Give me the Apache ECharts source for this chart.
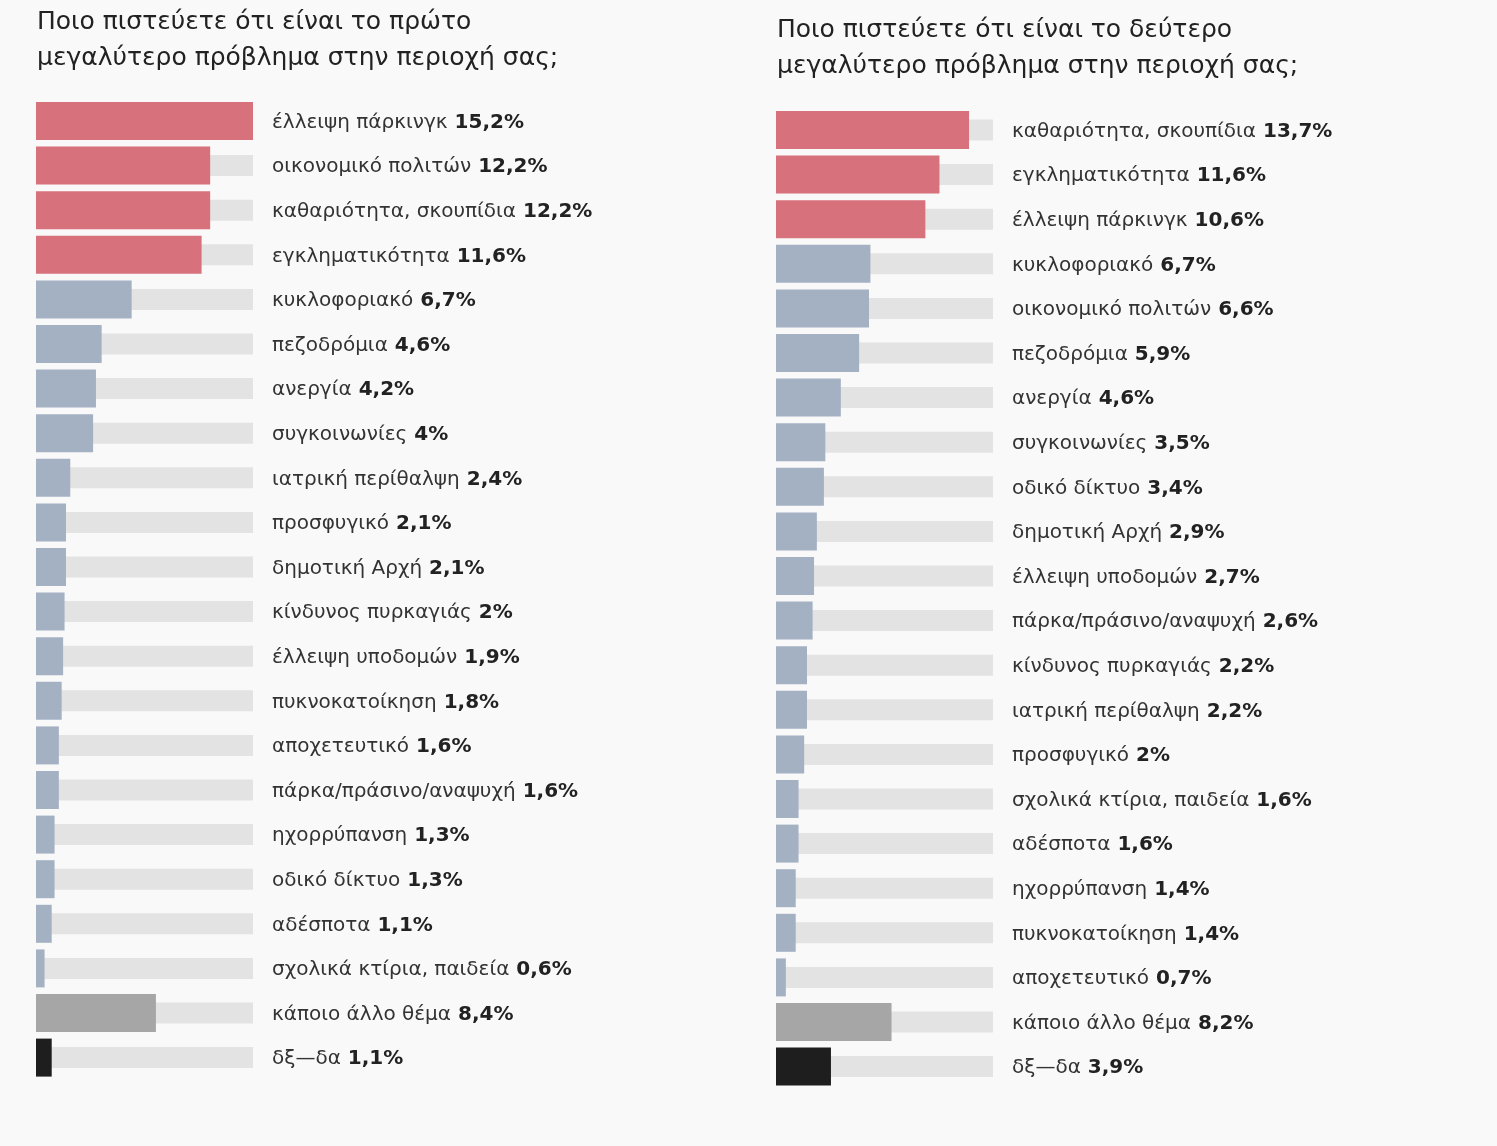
<!DOCTYPE html>
<html>
<head>
<meta charset="utf-8">
<script src="https://cdn.jsdelivr.net/npm/echarts@6/dist/echarts.min.js"></script>
<style>
html,body{margin:0;padding:0;background:#f9f9f9;}
#chart{width:1497px;height:1146px;}
</style>
</head>
<body>
<div id="chart"></div>
<script>
// ---- data ----
var leftTitle = 'Ποιο πιστεύετε ότι είναι το πρώτο\nμεγαλύτερο πρόβλημα στην περιοχή σας;';
var rightTitle = 'Ποιο πιστεύετε ότι είναι το δεύτερο\nμεγαλύτερο πρόβλημα στην περιοχή σας;';

var leftCategories = ['έλλειψη πάρκινγκ','οικονομικό πολιτών','καθαριότητα, σκουπίδια','εγκληματικότητα','κυκλοφοριακό','πεζοδρόμια','ανεργία','συγκοινωνίες','ιατρική περίθαλψη','προσφυγικό','δημοτική Αρχή','κίνδυνος πυρκαγιάς','έλλειψη υποδομών','πυκνοκατοίκηση','αποχετευτικό','πάρκα/πράσινο/αναψυχή','ηχορρύπανση','οδικό δίκτυο','αδέσποτα','σχολικά κτίρια, παιδεία','κάποιο άλλο θέμα','δξ—δα'];
var leftValues = [15.2,12.2,12.2,11.6,6.7,4.6,4.2,4,2.4,2.1,2.1,2,1.9,1.8,1.6,1.6,1.3,1.3,1.1,0.6,8.4,1.1];

var rightCategories = ['καθαριότητα, σκουπίδια','εγκληματικότητα','έλλειψη πάρκινγκ','κυκλοφοριακό','οικονομικό πολιτών','πεζοδρόμια','ανεργία','συγκοινωνίες','οδικό δίκτυο','δημοτική Αρχή','έλλειψη υποδομών','πάρκα/πράσινο/αναψυχή','κίνδυνος πυρκαγιάς','ιατρική περίθαλψη','προσφυγικό','σχολικά κτίρια, παιδεία','αδέσποτα','ηχορρύπανση','πυκνοκατοίκηση','αποχετευτικό','κάποιο άλλο θέμα','δξ—δα'];
var rightValues = [13.7,11.6,10.6,6.7,6.6,5.9,4.6,3.5,3.4,2.9,2.7,2.6,2.2,2.2,2,1.6,1.6,1.4,1.4,0.7,8.2,3.9];

var leftTopCount = 4;
var rightTopCount = 3;
var leftMax = 15.2;
var rightMax = 15.4;

// ---- styles ----
var RED = '#d7717b', BLUE = '#a4b1c3', GREY = '#a6a6a6', BLACK = '#1e1e1e', TRACK = '#e3e3e3';
var FONT = '"DejaVu Sans", "Noto Sans", sans-serif';

function colorFor(cat, idx, topCount) {
  if (cat === 'κάποιο άλλο θέμα') return GREY;
  if (cat === 'δξ—δα') return BLACK;
  return idx < topCount ? RED : BLUE;
}
function fmt(v) { return String(v).replace('.', ',') + '%'; }

var panels = [
  {cats: leftCategories, vals: leftValues, top: leftTopCount, max: leftMax, left: 36, gridTop: 98.7, title: leftTitle, tx: 37, ty: 4},
  {cats: rightCategories, vals: rightValues, top: rightTopCount, max: rightMax, left: 776, gridTop: 107.7, title: rightTitle, tx: 777, ty: 12}
];

var option = {
  backgroundColor: '#f9f9f9',
  animation: false,
  title: [], grid: [], xAxis: [], yAxis: [], series: []
};

panels.forEach(function (p, i) {
  option.title.push({
    text: p.title, left: p.tx, top: p.ty, padding: 0,
    textStyle: {fontFamily: FONT, fontSize: 25, fontWeight: 'normal', color: '#222', lineHeight: 36}
  });
  option.grid.push({left: p.left, width: 217, top: p.gridTop, height: 44.6 * p.cats.length, containLabel: false});
  option.xAxis.push({type: 'value', gridIndex: i, min: 0, max: p.max, show: false});
  option.yAxis.push({type: 'category', gridIndex: i, data: p.cats, inverse: true, show: false});
  option.yAxis.push({
    type: 'category', gridIndex: i, data: p.cats, inverse: true, position: 'right',
    axisLine: {show: false}, axisTick: {show: false}, splitLine: {show: false},
    axisLabel: {
      show: true, margin: 19, align: 'left',
      formatter: function (val, idx) { return '{n|' + val + '}{b|' + fmt(p.vals[idx]) + '}'; },
      rich: {
        n: {fontFamily: FONT, fontSize: 20, color: '#333', padding: [3, 7, 0, 0]},
        b: {fontFamily: FONT, fontSize: 20, color: '#222', fontWeight: 'bold', padding: [3, 0, 0, 0]}
      }
    }
  });
  option.series.push({
    type: 'bar', xAxisIndex: i, yAxisIndex: i * 2, silent: true,
    barWidth: 21, itemStyle: {color: TRACK},
    data: p.cats.map(function () { return p.max; })
  });
  option.series.push({
    type: 'bar', xAxisIndex: i, yAxisIndex: i * 2 + 1, silent: true,
    barWidth: 38,
    data: p.vals.map(function (v, k) { return {value: v, itemStyle: {color: colorFor(p.cats[k], k, p.top)}}; })
  });
});

var chart = echarts.init(document.getElementById('chart'));
chart.setOption(option);
</script>
</body>
</html>
